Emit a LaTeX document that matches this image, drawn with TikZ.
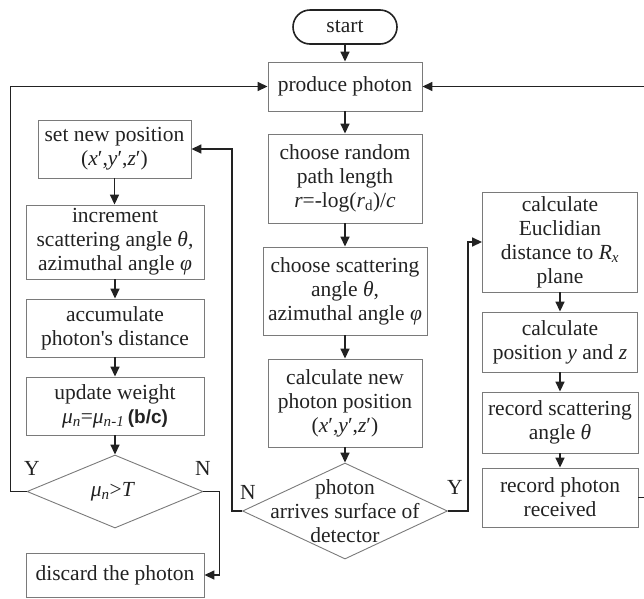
\documentclass[tikz,border=0pt]{standalone}
\usepackage{fontspec}
\setmainfont{Liberation Serif}
\newfontfamily\formulasans{Liberation Sans}
\newfontfamily\rawserif[Ligatures=TeXOff]{Liberation Serif}
\usetikzlibrary{arrows.meta,shapes.geometric}
\definecolor{ink}{HTML}{222222}
\definecolor{boxgray}{HTML}{7A7A7A}
\newcommand{\lowidx}[1]{\textsubscript{#1}}
\newcommand{\straightquote}{{\rawserif'}}
\begin{document}
\begin{tikzpicture}[x=1pt,y=-1pt,
  font=\fontsize{21.5}{24}\selectfont,
  box/.style={draw=boxgray, line width=0.9pt, align=center, inner sep=0pt, text=ink},
  decision/.style={diamond, draw=boxgray, line width=0.9pt, inner sep=0pt},
  terminal/.style={draw=ink, line width=1.6pt, rounded corners=17pt, inner sep=0pt, text=ink},
  arr/.style={draw=ink, line width=1.6pt, -{Triangle[length=10pt,width=9pt]}},
  yn/.style={text=ink, inner sep=0pt}]
\useasboundingbox (0,0) rectangle (644,598);

% centre column
\node[terminal, minimum width=104pt, minimum height=34pt] (start) at (345,27) {start};
\node[box, minimum width=154pt, minimum height=49pt] (produce) at (345,86.5) {produce photon};
\node[box, minimum width=154pt, minimum height=89pt] (random) at (345,178.5)
  {choose random\\path length\\\textit{r}=-log(\textit{r}\lowidx{d})/\textit{c}};
\node[box, minimum width=164pt, minimum height=88pt] (scatter) at (345,291)
  {choose scattering\\angle \textit{θ},\\azimuthal angle \textit{φ}};
\node[box, minimum width=154pt, minimum height=88pt] (newpos) at (345,403)
  {calculate new\\photon position\\(\textit{x}′,\textit{y}′,\textit{z}′)};
\node[decision, minimum width=205pt, minimum height=96pt] (arrive) at (345,511) {};
\node[align=center, inner sep=0pt, text=ink] (arrivetext) at (arrive.center)
  {photon\\arrives surface of\\detector};

% left column
\node[box, minimum width=153pt, minimum height=58pt] (setpos) at (114.5,149)
  {set new position\\(\textit{x}′,\textit{y}′,\textit{z}′)};
\node[box, minimum width=178pt, minimum height=74pt] (incr) at (115,242)
  {increment\\scattering angle \textit{θ},\\azimuthal angle \textit{φ}};
\node[box, minimum width=178pt, minimum height=58pt] (accum) at (115,328)
  {accumulate\\photon\straightquote s distance};
\node[box, minimum width=178pt, minimum height=58pt] (update) at (115,406)
  {update weight\\\textit{μ}\lowidx{\textit{n}}=\textit{μ}\lowidx{\textit{n-1}}\,{\formulasans\bfseries\fontsize{19}{24}\selectfont(b/c)}};
\node[decision, minimum width=176pt, minimum height=73pt] (weight) at (115,491.5) {};
\node[inner sep=0pt, text=ink] (weighttext) at (113,491.5) {\textit{μ}\lowidx{\textit{n}}>\textit{T}};
\node[box, minimum width=178pt, minimum height=44pt] (discard) at (115,575) {discard the photon};

% right column
\node[box, minimum width=155pt, minimum height=100pt] (eucl) at (560,242)
  {calculate\\Euclidian\\distance to \textit{R}\lowidx{\textit{x}}\\plane};
\node[box, minimum width=155pt, minimum height=60pt] (pos) at (560,342)
  {calculate\\position \textit{y} and \textit{z}};
\node[box, minimum width=156pt, minimum height=61pt] (recsc) at (560,422.5)
  {record scattering\\angle \textit{θ}};
\node[box, minimum width=156pt, minimum height=59pt] (recph) at (560,497.5)
  {record photon\\received};

% branch labels
\node[yn] (wy) at (32,468) {Y};
\node[yn] (wn) at (203,468) {N};
\node[yn] (an) at (248,492) {N};
\node[yn] (ay) at (455,487) {Y};

% main flow
\draw[arr] (start) -- (produce);
\draw[arr] (produce) -- (random);
\draw[arr] (random) -- (scatter);
\draw[arr] (scatter) -- (newpos);
\draw[arr] (newpos) -- (arrive);

% left loop
\draw[arr] (setpos.south) -- (setpos.south |- incr.north);
\draw[arr] (incr) -- (accum);
\draw[arr] (accum) -- (update);
\draw[arr] (update) -- (weight);
\draw[arr] (arrive.west) -- ++(-10,0) |- (setpos.east);
\draw[arr] (weight.west) -- ++(-16,0) |- (produce.west);
\draw[arr] (weight.east) -- ++(16,0) |- (discard.east);

% right column flow
\draw[arr] (arrive.east) -- ++(20,0) |- (eucl.west);
\draw[arr] (eucl) -- (pos);
\draw[arr] (pos) -- (recsc);
\draw[arr] (recsc) -- (recph);
\coordinate (back) at (647,86.5);
\draw[arr] (recph.east) -| (back) -- (produce.east);
\end{tikzpicture}
\end{document}
